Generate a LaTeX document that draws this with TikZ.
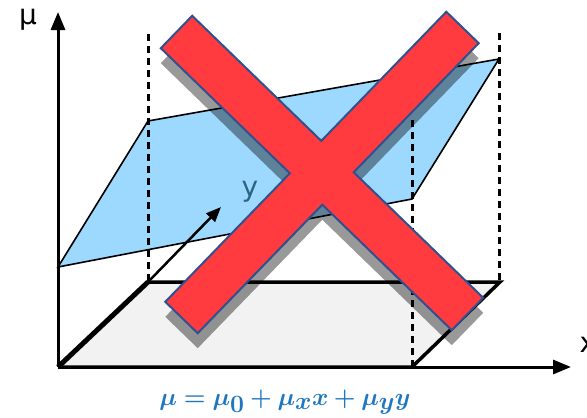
\documentclass[tikz,border=0pt]{standalone}
\usepackage{fontspec}
\usepackage{bm}
\usetikzlibrary{arrows.meta}
\newfontfamily\labelfont{DejaVu Sans}
\definecolor{floorgrey}{RGB}{242,242,242}
\definecolor{planeblue}{RGB}{157,217,255}
\definecolor{crossred}{RGB}{255,59,63}
\definecolor{crossedge}{RGB}{47,82,143}
\definecolor{eqblue}{RGB}{31,119,192}
\definecolor{ytext}{RGB}{46,100,130}

\begin{document}
\begin{tikzpicture}[x=1pt, y=-1pt,
    axis/.style={line width=3pt, -{Triangle[length=18pt,width=14pt]}},
    floorline/.style={line width=3.5pt},
    guide/.style={line width=3pt, dash pattern=on 7pt off 5pt},
    planeline/.style={line width=1.6pt},
    lbl/.style={font=\labelfont\fontsize{28}{28}\selectfont}
]
    \useasboundingbox (0,0) rectangle (587,418);

    % floor and plane corners
    \coordinate (o)  at (58,367);
    \coordinate (f2) at (412,367);
    \coordinate (f3) at (500,282);
    \coordinate (f4) at (148,282);
    \coordinate (p1) at (58,267);
    \coordinate (p2) at (148,121);
    \coordinate (p3) at (499,59);
    \coordinate (p4) at (412,199);

    \fill[floorgrey] (o) -- (f2) -- (f3) -- (f4) -- cycle;
    \draw[axis] (o) -- (571,367) coordinate (xtip);
    \draw[axis] (o) -- (58,12) coordinate (mutip);
    \draw[floorline, line join=miter] (o) -- (f2) -- (f3) -- (f4);
    \draw[line width=5pt] (o) -- (f4);

    \filldraw[planeline, fill=planeblue] (p1) -- (p2) -- (p3) -- (p4) -- cycle;

    \draw[guide] (148,34) -- (f4);
    \draw[guide] (412,120) -- (f2);
    \draw[guide] (499,33) -- (499,282);

    \draw[line width=2.5pt, -{Triangle[length=15pt,width=12pt]}] (f4) -- (221,207) coordinate (ytip);

    \node[lbl] (muLabel) at (28,20) {μ};
    \node[lbl, anchor=west] (xLabel) at (576,345) {x};
    \node[lbl, text=ytext] (yLabel) at (250,192) {y};

    % the cross
    \coordinate (a1) at (192.2,15.8);
    \coordinate (a2) at (483.2,297.8);
    \coordinate (a3) at (451.8,330.2);
    \coordinate (a4) at (160.8,48.2);
    \coordinate (b1) at (165.3,301.8);
    \coordinate (b2) at (446.3,11.8);
    \coordinate (b3) at (478.7,43.2);
    \coordinate (b4) at (197.7,333.2);
    \def\crosspath{(a1) -- (intersection of a1--a2 and b1--b2) -- (b2) -- (b3)
        -- (intersection of a1--a2 and b3--b4) -- (a2) -- (a3)
        -- (intersection of a3--a4 and b3--b4) -- (b4) -- (b1)
        -- (intersection of a3--a4 and b1--b2) -- (a4) -- cycle}
    \begin{scope}[transform canvas={yshift=-15pt}]
        \fill[black, opacity=0.4] \crosspath;
    \end{scope}
    \filldraw[fill=crossred, draw=crossedge, line width=2pt, line join=miter] \crosspath;

    \node[text=eqblue, font=\fontsize{35}{35}\selectfont] (eq) at (285,402)
        {$\bm{\mu = \mu_0 + \mu_x x + \mu_y y}$};
\end{tikzpicture}
\end{document}
